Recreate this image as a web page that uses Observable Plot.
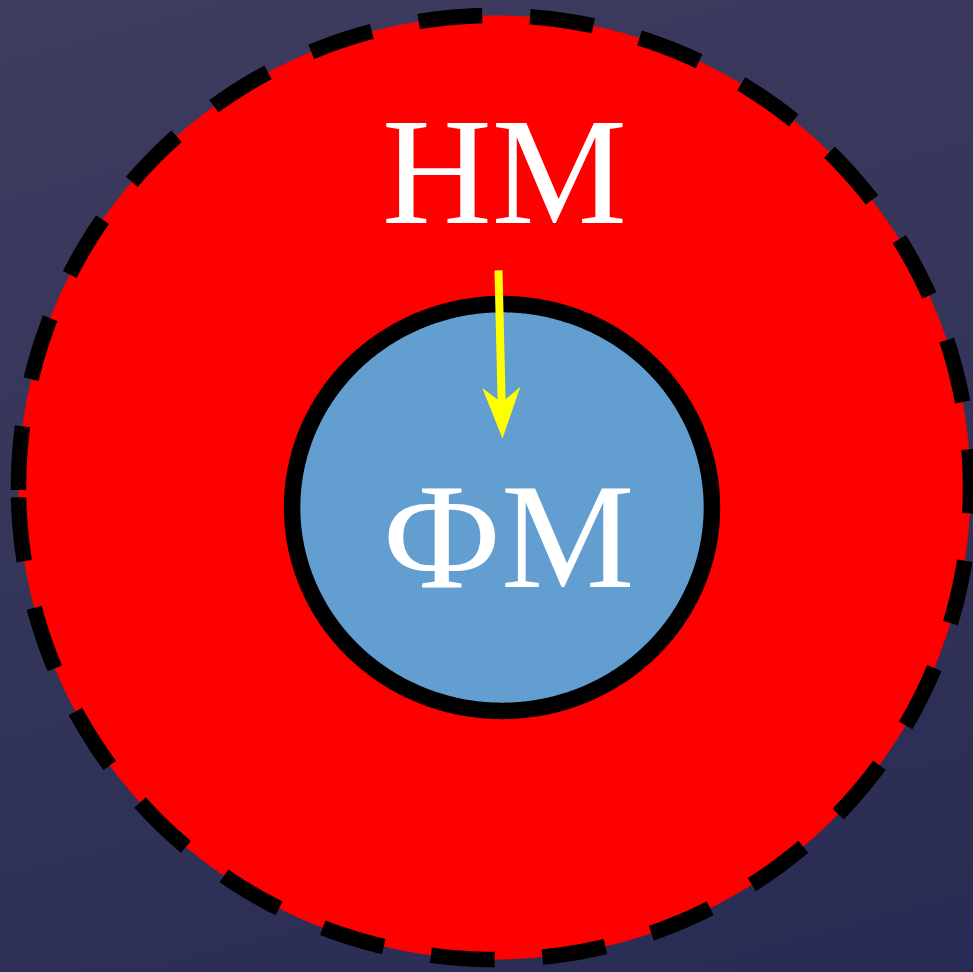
<!DOCTYPE html>
<html>
<head>
<meta charset="utf-8">
<script src="https://cdn.jsdelivr.net/npm/d3@7"></script>
<script src="https://cdn.jsdelivr.net/npm/@observablehq/plot@0.6"></script>
<style>
  html, body { margin: 0; padding: 0; width: 973px; height: 972px; overflow: hidden; }
  body { background: linear-gradient(165deg, #3e3c5f 0%, #34355a 50%, #282b53 100%); }
  #chart svg { display: block; background: transparent; }
</style>
</head>
<body>
<div id="chart"></div>
<script>
// Nested sets: outer НМ contains inner ФМ (diagram units: outer radius = 100)
const setLabels = ["НМ", "ФМ"];
const setCenterX = [0, 1.58];
const setCenterY = [0, -4.2];
const setRadius = [100, 44.1];
const setAspect = [0.9916, 0.969];
// label anchor points (baseline)
const labelX = [2.1, 2.94];
const labelY = [55.5, -20.8];
// arrow from НМ into ФМ
const arrowFrom = [0.84, 45.6];
const arrowTo = [1.68, 10.3];

const sets = setLabels.map((label, i) => ({
  label, cx: setCenterX[i], cy: setCenterY[i], r: setRadius[i], aspect: setAspect[i],
  lx: labelX[i], ly: labelY[i]
}));

function ellipseSymbol(aspect, startAngle) {
  return {
    draw(ctx, size) {
      const r = Math.sqrt(size / Math.PI);
      const n = 720;
      for (let i = 0; i <= n; i++) {
        const a = startAngle - 2 * Math.PI * i / n;
        const x = r * Math.cos(a), y = aspect * r * Math.sin(a);
        if (i === 0) ctx.moveTo(x, y); else ctx.lineTo(x, y);
      }
      ctx.closePath();
    }
  };
}

const arrowHead = {
  draw(ctx) {
    ctx.moveTo(0, 0);
    ctx.lineTo(-19, -51);
    ctx.lineTo(0, -36);
    ctx.lineTo(19, -51);
    ctx.closePath();
  }
};

const arrow = [{x1: arrowFrom[0], y1: arrowFrom[1], x2: arrowTo[0], y2: arrowTo[1]}];
const shaftEnd = [{x1: arrowFrom[0], y1: arrowFrom[1],
  x2: arrowFrom[0] + (arrowTo[0] - arrowFrom[0]) * 0.85,
  y2: arrowFrom[1] + (arrowTo[1] - arrowFrom[1]) * 0.85}];
const headAngle = -Math.atan2(arrowTo[0] - arrowFrom[0], arrowFrom[1] - arrowTo[1]) * 180 / Math.PI;

const outer = sets[0], inner = sets[1];

const chart = Plot.plot({
  width: 973,
  height: 972,
  margin: 0,
  x: {domain: [-494 / 4.76, (973 - 494) / 4.76], axis: null},
  y: {domain: [-(972 - 487) / 4.76, 487 / 4.76], axis: null},
  r: {type: "linear", domain: [0, 100], range: [0, 476]},
  style: {background: "transparent", overflow: "visible"},
  marks: [
    Plot.dot([outer], {
      x: "cx", y: "cy", r: "r",
      symbol: ellipseSymbol(outer.aspect, Math.PI - 10 / 476),
      fill: "#ff0000", stroke: "#000000", strokeWidth: 15.5,
      strokeDasharray: "64,47.8", strokeLinecap: "butt"
    }),
    Plot.dot([inner], {
      x: "cx", y: "cy", r: "r",
      symbol: ellipseSymbol(inner.aspect, 0),
      fill: "#639ed0", stroke: "#000000", strokeWidth: 16.5
    }),
    Plot.text(sets, {
      x: "lx", y: "ly", text: "label",
      fill: "#ffffff", fontFamily: "Liberation Serif", fontSize: (d, i) => i === 0 ? 152 : 150,
      textAnchor: "middle", lineAnchor: "bottom"
    }),
    Plot.link(shaftEnd, {
      x1: "x1", y1: "y1", x2: "x2", y2: "y2",
      stroke: "#ffff00", strokeWidth: 8, strokeLinecap: "butt"
    }),
    Plot.dot(arrow, {
      x: "x2", y: "y2", symbol: arrowHead, r: 5,
      fill: "#ffff00", stroke: "none", rotate: headAngle
    })
  ]
});

document.getElementById("chart").appendChild(chart);
</script>
</body>
</html>
